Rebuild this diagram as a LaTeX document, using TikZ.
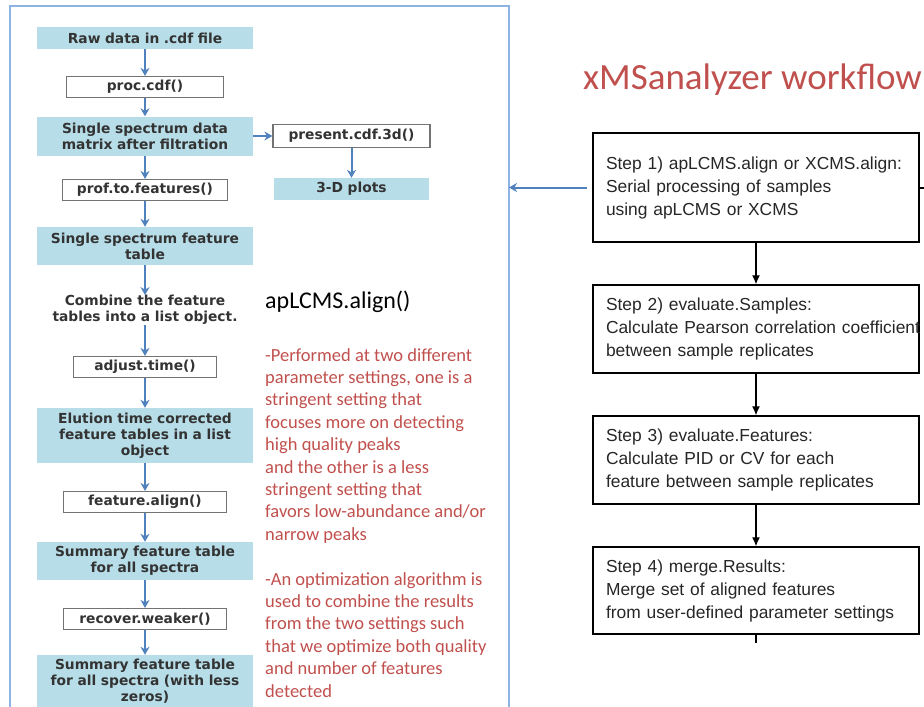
\documentclass[tikz,border=0pt]{standalone}
\usepackage{fontspec}
\setmainfont{Liberation Sans}
\newfontfamily\stepfont{Liberation Sans}
\newfontfamily\boxfont{DejaVu Sans}
\newfontfamily\notefont{Carlito}
\usetikzlibrary{positioning, arrows.meta}
\definecolor{boxblue}{HTML}{B7DDE8}
\definecolor{arrowblue}{HTML}{4F81BD}
\definecolor{frameblue}{HTML}{8DB3E2}
\definecolor{notered}{HTML}{C0504D}

\begin{document}
\begin{tikzpicture}[x=1pt, y=-1pt]
        \tikzstyle{fillbox}=[fill=boxblue, minimum width=216pt, text width=216pt, align=center, inner sep=0pt, text=black!80, font=\boxfont\bfseries\fontsize{13.8}{16}\selectfont]
        \tikzstyle{funbox}=[draw=black!55, fill=white, line width=1.2pt, align=center, inner sep=0pt, minimum height=21pt, text=black!80, font=\boxfont\bfseries\fontsize{13.8}{16}\selectfont]
        \tikzstyle{flow}=[arrowblue, line width=2pt, -{Stealth[length=8pt, width=9pt]}]
        \tikzstyle{stepbox}=[draw, line width=1.4pt, minimum width=326pt, text width=300pt, inner xsep=13pt, inner ysep=0pt, align=left, text=black!85, font=\stepfont\fontsize{17.4}{23}\selectfont]
        \tikzstyle{stepflow}=[line width=1.3pt, -{Latex[length=9pt, width=8pt]}]

        \useasboundingbox (0,0) rectangle (924,707);

        % Frame round the apLCMS chart
        \draw[frameblue, line width=1.5pt] (10,6) rectangle (509,720);
        \coordinate (frameR) at (509,0);

        % apLCMS chart, left column
        \node[fillbox, minimum height=22pt] (raw) at (145,38) {Raw data in .cdf file};
        \node[funbox, minimum width=157pt] (proc) at (145,87) {proc.cdf()};
        \node[fillbox, minimum height=39pt] (matrix) at (145,136) {Single spectrum data\\matrix after filtration};
        \node[funbox, minimum width=165pt] (prof) at (145,190) {prof.to.features()};
        \node[fillbox, minimum height=38pt] (single) at (145,246) {Single spectrum feature\\table};
        \node[align=center, inner sep=0pt, text=black!80, font=\boxfont\bfseries\fontsize{13.8}{16}\selectfont] (combine) at (145,310) {Combine the feature\\tables into a list object.};
        \node[funbox, minimum width=143pt] (adjust) at (145,367) {adjust.time()};
        \node[fillbox, minimum height=55pt] (elution) at (145,435.5) {Elution time corrected\\feature tables in a list\\object};
        \node[funbox, minimum width=163pt] (falign) at (145,502) {feature.align()};
        \node[fillbox, minimum height=38pt] (summary) at (145,561) {Summary feature table\\for all spectra};
        \node[funbox, minimum width=163pt] (recover) at (145,619) {recover.weaker()};
        \node[fillbox, minimum height=52pt] (zeros) at (145,681) {Summary feature table\\for all spectra (with less\\zeros)};

        % side branch
        \node[funbox, minimum width=157pt, minimum height=23pt] (present) at (351.5,136) {present.cdf.3d()};
        \node[fillbox, minimum width=155pt, text width=155pt, minimum height=22pt] (plots) at (351.5,189) {3-D plots};

        % Arrows of the left column
        \draw[flow] (raw) -- (proc);
        \draw[flow] (proc) -- (matrix);
        \draw[flow] (matrix) -- (prof);
        \draw[flow] (prof) -- (single);
        \draw[flow] (single) -- (combine);
        \draw[flow] (combine) -- (adjust);
        \draw[flow] (adjust) -- (elution);
        \draw[flow] (elution) -- (falign);
        \draw[flow] (falign) -- (summary);
        \draw[flow] (summary) -- (recover);
        \draw[flow] (recover) -- (zeros);
        \draw[flow] (matrix) -- (present);
        \draw[flow] (present) -- (plots);

        % Notes on apLCMS.align()
        \node[anchor=west, inner sep=0pt, font=\notefont\fontsize{24}{28}\selectfont] (alignname) at (265,302) {apLCMS.align()};
        \node[anchor=north west, inner sep=0pt, align=left, text=notered, font=\notefont\fontsize{18.5}{22.4}\selectfont] (notes) at (265,348) {-Performed at two different\\parameter settings, one is a\\stringent setting that\\focuses more on detecting\\high quality peaks\\and the other is a less\\stringent setting that\\favors low-abundance and/or\\narrow peaks\\[22.4pt]-An optimization algorithm is\\used to combine the results\\from the two settings such\\that we optimize both quality\\and number of features\\detected};

        % xMSanalyzer workflow
        \node[anchor=west, inner sep=0pt, text=notered, font=\notefont\fontsize{37}{40}\selectfont] (title) at (583,80) {xMSanalyzer workflow};
        \node[stepbox, minimum height=109pt] (step1) at (756,187.5) {Step 1) apLCMS.align or XCMS.align:\\Serial processing of samples\\using apLCMS or XCMS};
        \node[stepbox, minimum height=88pt] (step2) at (756,329) {Step 2) evaluate.Samples:\\\mbox{Calculate Pearson correlation coefficient}\\between sample replicates};
        \node[stepbox, minimum height=88pt] (step3) at (756,460) {Step 3) evaluate.Features:\\Calculate PID or CV for each\\feature between sample replicates};
        \node[stepbox, minimum height=87pt] (step4) at (756,590.5) {Step 4) merge.Results:\\Merge set of aligned features\\from user-defined parameter settings};
        \coordinate (stubR) at (926,188);
        \coordinate (stubB) at (756,643);

        \draw[stepflow] (step1) -- (step2);
        \draw[stepflow] (step2) -- (step3);
        \draw[stepflow] (step3) -- (step4);
        \draw[line width=1.3pt] (step1.east |- stubR) -- (stubR);
        \draw[line width=1.3pt] (step4.south) -- (stubB);

        % back to the apLCMS chart
        \draw[flow, shorten <=5pt] (step1.west) -- (step1.west -| frameR);
    \end{tikzpicture}
\end{document}
